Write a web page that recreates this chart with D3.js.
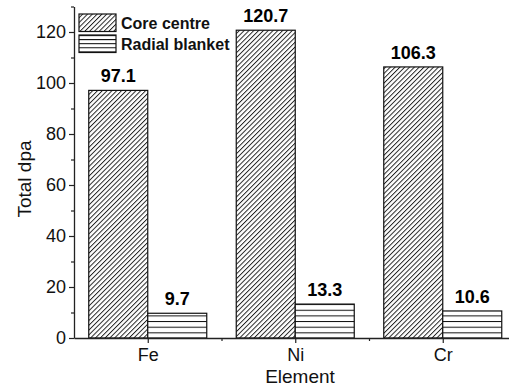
<!DOCTYPE html>
<html>
<head>
<meta charset="utf-8">
<script src="https://cdn.jsdelivr.net/npm/d3@7"></script>
<style>
  html, body { margin: 0; padding: 0; background: #fff; }
  svg { display: block; font-family: "Liberation Sans", Arial, sans-serif; }
</style>
</head>
<body>
<svg id="chart" width="509" height="387"></svg>
<script>
// Total displacements per atom by element
const elements = ["Fe", "Ni", "Cr"];
const coreCentre = [97.1, 120.7, 106.3];
const radialBlanket = [9.7, 13.3, 10.6];
const seriesNames = ["Core centre", "Radial blanket"];
const yMajorTicks = [0, 20, 40, 60, 80, 100, 120];
const yMinorTicks = [10, 30, 50, 70, 90, 110, 130];

const svg = d3.select("#chart");
const defs = svg.append("defs");

// Diagonal hatch for the core centre bars
const diag = defs.append("pattern")
  .attr("id", "hatch-diag")
  .attr("patternUnits", "userSpaceOnUse")
  .attr("width", 3.4).attr("height", 10)
  .attr("patternTransform", "rotate(45)");
diag.append("rect").attr("width", 3.4).attr("height", 10).attr("fill", "#fff");
diag.append("line").attr("x1", 0.5).attr("y1", 0).attr("x2", 0.5).attr("y2", 10)
  .attr("stroke", "#111").attr("stroke-width", 0.9);

// Horizontal stripes for the radial blanket bars
function stripes(id, gap, offset) {
  const p = defs.append("pattern")
    .attr("id", id)
    .attr("patternUnits", "userSpaceOnUse")
    .attr("width", 10).attr("height", gap)
    .attr("y", offset);
  p.append("rect").attr("width", 10).attr("height", gap).attr("fill", "#fff");
  p.append("line").attr("x1", 0).attr("x2", 10).attr("y1", 0.5).attr("y2", 0.5)
    .attr("stroke", "#111").attr("stroke-width", 1);
}
stripes("hatch-horz", 5.65, 338 - 5.65 * 60);
stripes("hatch-horz-legend", 4.1, 35);

const x = d3.scaleLinear().domain([0.5, 3.5]).range([74, 516.5]);
const y = d3.scaleLinear().domain([0, 130]).range([338, 6.5]);
const halfGroup = 0.4;

const g = svg.append("g");

// Bars
elements.forEach((el, i) => {
  const c = i + 1;
  g.append("rect")
    .attr("x", x(c - halfGroup)).attr("width", x(c) - x(c - halfGroup))
    .attr("y", y(coreCentre[i])).attr("height", y(0) - y(coreCentre[i]))
    .attr("fill", "url(#hatch-diag)").attr("stroke", "#111").attr("stroke-width", 1.2);
  g.append("rect")
    .attr("x", x(c)).attr("width", x(c + halfGroup) - x(c))
    .attr("y", y(radialBlanket[i])).attr("height", y(0) - y(radialBlanket[i]))
    .attr("fill", "url(#hatch-horz)").attr("stroke", "#111").attr("stroke-width", 1.2);

  g.append("text")
    .attr("x", x(c - halfGroup / 2)).attr("y", y(coreCentre[i]) - 8)
    .attr("text-anchor", "middle").attr("font-weight", "bold").attr("font-size", 18)
    .text(coreCentre[i].toFixed(1));
  g.append("text")
    .attr("x", x(c + halfGroup / 2)).attr("y", y(radialBlanket[i]) - 8)
    .attr("text-anchor", "middle").attr("font-weight", "bold").attr("font-size", 18)
    .text(radialBlanket[i].toFixed(1));
});

// Y axis
const yAxis = g.append("g").attr("class", "y-axis").attr("transform", `translate(${x(0.5)},0)`)
  .call(d3.axisLeft(y).tickValues(yMajorTicks).tickSize(5).tickSizeOuter(0).tickPadding(3));
g.append("g").attr("transform", `translate(${x(0.5)},0)`)
  .call(d3.axisLeft(y).tickValues(yMinorTicks).tickSize(3).tickSizeOuter(0).tickFormat(""))
  .select(".domain").remove();

// X axis
const xAxis = g.append("g").attr("class", "x-axis").attr("transform", `translate(0,${y(0)})`)
  .call(d3.axisBottom(x).tickValues([1, 2, 3]).tickSize(5).tickSizeOuter(0)
    .tickPadding(6).tickFormat(d => elements[d - 1]));
g.append("g").attr("transform", `translate(0,${y(0)})`)
  .call(d3.axisBottom(x).tickValues([1.5, 2.5]).tickSize(3).tickSizeOuter(0).tickFormat(""))
  .select(".domain").remove();

svg.selectAll(".domain").attr("stroke", "#222").attr("stroke-width", 1.3);
svg.selectAll(".tick line").attr("stroke", "#222").attr("stroke-width", 1.2);
svg.selectAll(".tick text").attr("fill", "#111")
  .attr("font-family", "Liberation Sans, Arial, sans-serif");
svg.selectAll(".y-axis .tick text").attr("font-size", 18);
svg.selectAll(".x-axis .tick text").attr("font-size", 18).attr("dy", null).attr("y", 23);

// Axis titles
g.append("text").attr("x", 300).attr("y", 383)
  .attr("text-anchor", "middle").attr("font-size", 19).attr("fill", "#111")
  .text("Element");
g.append("text").attr("transform", "translate(31,179) rotate(-90)")
  .attr("text-anchor", "middle").attr("font-size", 19).attr("fill", "#111")
  .text("Total dpa");

// Legend
const legendFills = ["url(#hatch-diag)", "url(#hatch-horz-legend)"];
seriesNames.forEach((name, i) => {
  const top = 14 + i * 21;
  g.append("rect").attr("x", 79).attr("y", top).attr("width", 37).attr("height", 17.5)
    .attr("fill", legendFills[i]).attr("stroke", "#111").attr("stroke-width", 1.2);
  g.append("text").attr("x", 121).attr("y", top + 14.5)
    .attr("font-size", 16).attr("font-weight", "bold").attr("fill", "#111")
    .text(name);
});
</script>
</body>
</html>
